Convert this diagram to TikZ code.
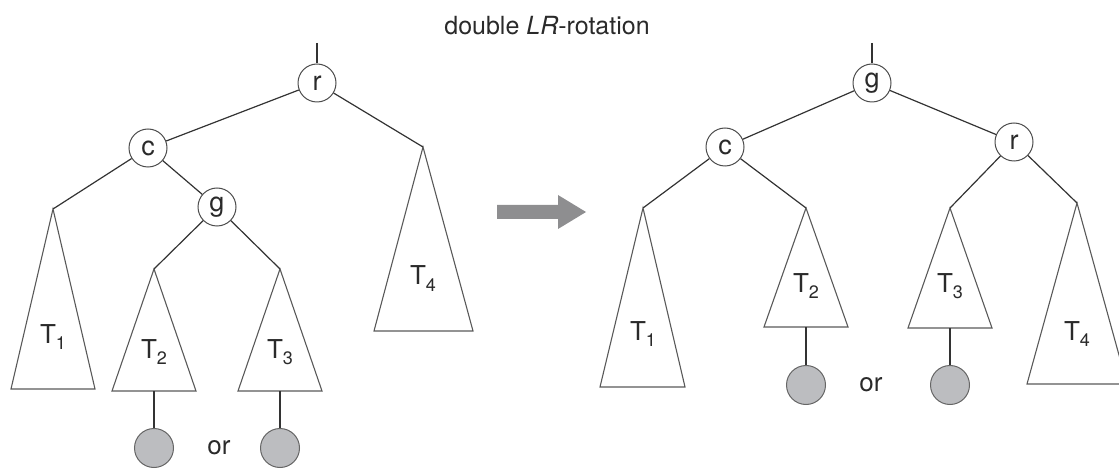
\documentclass[tikz,border=0pt]{standalone}
\usepackage{fontspec}
\setmainfont{TeX Gyre Heros}
\definecolor{leafgray}{HTML}{BCBDC0}
\definecolor{arrowgray}{HTML}{8E8E90}
\definecolor{inkgray}{HTML}{2A2A2A}
\newcommand\Tsub[1]{T\raisebox{-6pt}{\fontsize{18}{18}\selectfont #1}}
\begin{document}
\begin{tikzpicture}[x=1pt,y=-1pt,
  vert/.style={circle, draw=black!70, line width=1pt, fill=white, minimum size=38pt, inner sep=0pt, text=inkgray, font=\fontsize{27}{27}\selectfont},
  leaf/.style={circle, draw=black!60, line width=1pt, fill=leafgray, minimum size=39pt, inner sep=0pt},
  edge/.style={draw=black!80, line width=1.2pt},
  tri/.style={draw=black!65, line width=1.1pt, line join=miter},
  tlab/.style={anchor=base, text=inkgray, font=\fontsize{26}{26}\selectfont, inner sep=0pt},
  txt/.style={text=inkgray, font=\fontsize{26}{26}\selectfont, inner sep=0pt}]
\useasboundingbox (0,0) rectangle (1119,470);
\clip (0,0) rectangle (1119,470);

% title
\node[anchor=base, inner sep=0pt, text=inkgray, font=\fontsize{25}{25}\selectfont] (title) at (547,35) {double \textit{LR}-rotation};

% ---------- left tree ----------
\coordinate (Lstem) at (317,43);
\node[vert] (Lr) at (317,83) {r};
\node[vert] (Lc) at (148,148) {c};
\node[vert] (Lg) at (217,207) {g};
\coordinate (LA1) at (53,209);
\coordinate (LA2) at (154,269);
\coordinate (LA3) at (280,269);
\coordinate (LA4) at (423,147);
\draw[tri] (LA1) -- (11,389) -- (95,389) -- cycle;
\draw[tri] (LA2) -- (112,391) -- (196,391) -- cycle;
\draw[tri] (LA3) -- (238,391) -- (322,391) -- cycle;
\draw[tri] (LA4) -- (374,331) -- (473,331) -- cycle;
\node[tlab] (LT1) at (53,343) {\Tsub{1}};
\node[tlab] (LT2) at (154,358) {\Tsub{2}};
\node[tlab] (LT3) at (280,358) {\Tsub{3}};
\node[tlab] (LT4) at (423,285) {\Tsub{4}};
\draw[edge] (Lstem) -- (Lr);
\draw[edge] (Lr) -- (Lc);
\draw[edge] (Lr) -- (LA4);
\draw[edge] (Lc) -- (LA1);
\draw[edge] (Lc) -- (Lg);
\draw[edge] (Lg) -- (LA2);
\draw[edge] (Lg) -- (LA3);
\coordinate (LB2) at (154,391);
\coordinate (LB3) at (280,391);
\node[leaf] (Ll2) at (154,448) {};
\node[leaf] (Ll3) at (280,448) {};
\draw[edge] (LB2) -- (Ll2);
\draw[edge] (LB3) -- (Ll3);
\node[txt] (Lor) at (219,448) {or};

% ---------- arrow ----------
\fill[arrowgray] (497,205) -- (558,205) -- (558,195) -- (586,212) -- (558,229) -- (558,219) -- (497,219) -- cycle;

% ---------- right tree ----------
\coordinate (Rstem) at (872,43);
\node[vert] (Rg) at (872,83) {g};
\node[vert] (Rc) at (725,147) {c};
\node[vert] (Rr) at (1014,142) {r};
\coordinate (RA1) at (643,208);
\coordinate (RA2) at (806,208);
\coordinate (RA3) at (950,208);
\coordinate (RA4) at (1077,203);
\draw[tri] (RA1) -- (600,387) -- (685,387) -- cycle;
\draw[tri] (RA2) -- (764,327) -- (848,327) -- cycle;
\draw[tri] (RA3) -- (908,328) -- (992,328) -- cycle;
\draw[tri] (RA4) -- (1027,384) -- (1127,384) -- cycle;
\node[tlab] (RT1) at (643,340) {\Tsub{1}};
\node[tlab] (RT2) at (806,293) {\Tsub{2}};
\node[tlab] (RT3) at (950,293) {\Tsub{3}};
\node[tlab] (RT4) at (1077,340) {\Tsub{4}};
\draw[edge] (Rstem) -- (Rg);
\draw[edge] (Rg) -- (Rc);
\draw[edge] (Rg) -- (Rr);
\draw[edge] (Rc) -- (RA1);
\draw[edge] (Rc) -- (RA2);
\draw[edge] (Rr) -- (RA3);
\draw[edge] (Rr) -- (RA4);
\coordinate (RB2) at (806,327);
\coordinate (RB3) at (950,328);
\node[leaf] (Rl2) at (806,385) {};
\node[leaf] (Rl3) at (950,385) {};
\draw[edge] (RB2) -- (Rl2);
\draw[edge] (RB3) -- (Rl3);
\node[txt] (Ror) at (871,385) {or};
\end{tikzpicture}
\end{document}
